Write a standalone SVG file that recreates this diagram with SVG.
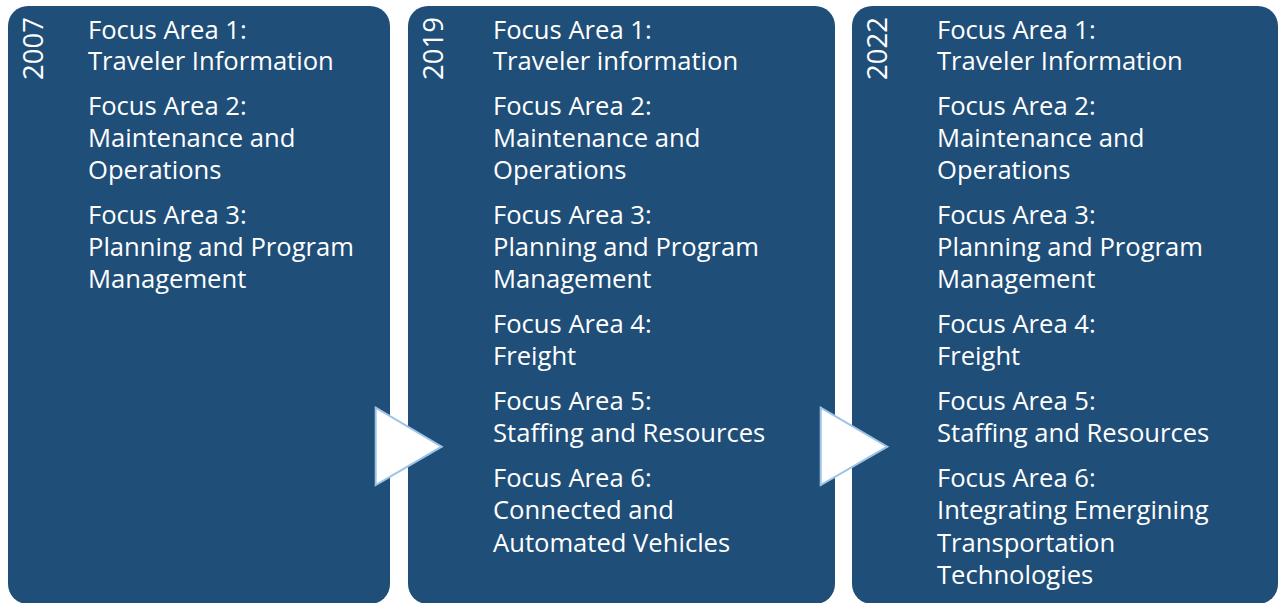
<svg xmlns="http://www.w3.org/2000/svg" width="1278" height="603" viewBox="0 0 1278 603">
<style>
.box{fill:#1F4E79;}
.t{font-family:"Open Sans","Liberation Sans",sans-serif;font-size:25.6px;fill:#FFFFFF;}
.y{font-family:"Open Sans","Liberation Sans",sans-serif;font-size:27.5px;fill:#FFFFFF;}
.arrow{fill:#FFFFFF;stroke:#9DC3E6;stroke-width:2;stroke-linejoin:miter;}
</style>
<rect width="1278" height="603" fill="#FFFFFF"/>
<g id="node-2007">
<rect class="box" x="8" y="6" width="382" height="598" rx="20" ry="20"/>
<text class="y" transform="translate(43,80) rotate(-90)">2007</text>
<text class="t" x="88" y="39">Focus Area 1:</text>
<text class="t" x="88" y="70">Traveler Information</text>
<text class="t" x="88" y="115">Focus Area 2:</text>
<text class="t" x="88" y="147">Maintenance and</text>
<text class="t" x="88" y="179">Operations</text>
<text class="t" x="88" y="224">Focus Area 3:</text>
<text class="t" x="88" y="256">Planning and Program</text>
<text class="t" x="88" y="288">Management</text>
</g>
<g id="node-2019">
<rect class="box" x="408" y="6" width="427" height="598" rx="20" ry="20"/>
<text class="y" transform="translate(443,80) rotate(-90)">2019</text>
<text class="t" x="493" y="39">Focus Area 1:</text>
<text class="t" x="493" y="70">Traveler information</text>
<text class="t" x="493" y="115">Focus Area 2:</text>
<text class="t" x="493" y="147">Maintenance and</text>
<text class="t" x="493" y="179">Operations</text>
<text class="t" x="493" y="224">Focus Area 3:</text>
<text class="t" x="493" y="256">Planning and Program</text>
<text class="t" x="493" y="288">Management</text>
<text class="t" x="493" y="333">Focus Area 4:</text>
<text class="t" x="493" y="365">Freight</text>
<text class="t" x="493" y="410">Focus Area 5:</text>
<text class="t" x="493" y="442">Staffing and Resources</text>
<text class="t" x="493" y="487">Focus Area 6:</text>
<text class="t" x="493" y="519">Connected and</text>
<text class="t" x="493" y="552">Automated Vehicles</text>
</g>
<g id="node-2022">
<rect class="box" x="852" y="6" width="426" height="598" rx="20" ry="20"/>
<text class="y" transform="translate(887,80) rotate(-90)">2022</text>
<text class="t" x="937" y="39">Focus Area 1:</text>
<text class="t" x="937" y="70">Traveler Information</text>
<text class="t" x="937" y="115">Focus Area 2:</text>
<text class="t" x="937" y="147">Maintenance and</text>
<text class="t" x="937" y="179">Operations</text>
<text class="t" x="937" y="224">Focus Area 3:</text>
<text class="t" x="937" y="256">Planning and Program</text>
<text class="t" x="937" y="288">Management</text>
<text class="t" x="937" y="333">Focus Area 4:</text>
<text class="t" x="937" y="365">Freight</text>
<text class="t" x="937" y="410">Focus Area 5:</text>
<text class="t" x="937" y="442">Staffing and Resources</text>
<text class="t" x="937" y="487">Focus Area 6:</text>
<text class="t" x="937" y="519">Integrating Emergining</text>
<text class="t" x="937" y="552">Transportation</text>
<text class="t" x="937" y="584">Technologies</text>
</g>
<g id="connectors">
<polygon class="arrow" points="375.7,407.7 441.7,446.7 375.7,485"/>
<polygon class="arrow" points="820.7,407.7 887.3,446.7 820.7,485"/>
</g>
</svg>
